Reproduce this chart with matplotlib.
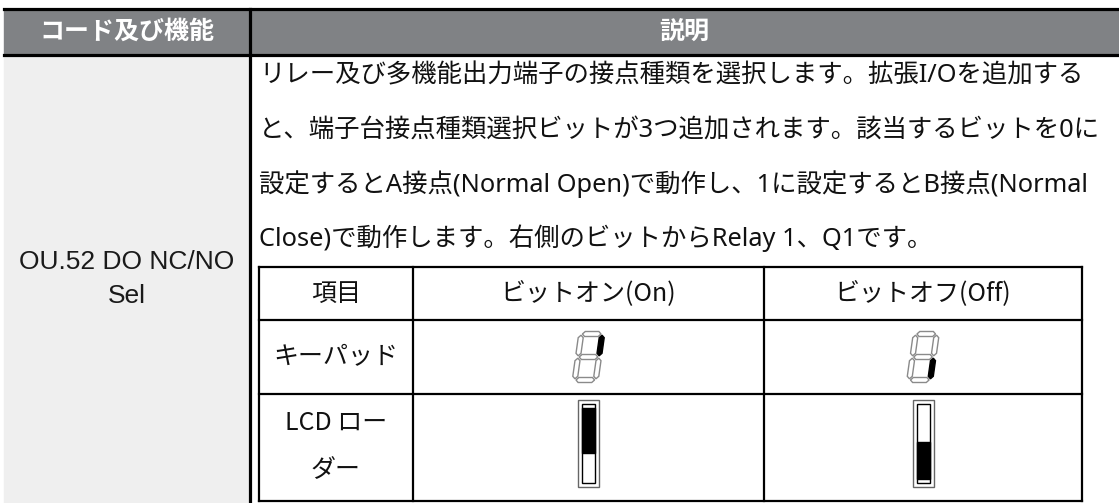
import numpy as np
import matplotlib.pyplot as plt
from matplotlib.patches import Rectangle, Polygon

# text content
header_labels = ['コード及び機能', '説明']
code_lines = ['OU.52 DO NC/NO', 'Sel']
desc_lines = [
    'リレー及び多機能出力端子の接点種類を選択します。拡張I/Oを追加する',
    'と、端子台接点種類選択ビットが3つ追加されます。該当するビットを0に',
    '設定するとA接点(Normal Open)で動作し、1に設定するとB接点(Normal',
    'Close)で動作します。右側のビットからRelay 1、Q1です。',
]
sub_cols = ['項目', 'ビットオン(On)', 'ビットオフ(Off)']
sub_rows = [['キーパッド'], ['LCD ロー', 'ダー']]
keypad_seg = ['b', 'c']          # lit segment for On / Off
loader_fill = [(0.05, 0.62), (0.48, 0.95)]  # black part of loader bar (from top)

JP = ['Noto Sans CJK JP', 'DejaVu Sans']
MIX = ['Noto Sans', 'Noto Sans CJK JP', 'DejaVu Sans']
LAT = ['Liberation Sans', 'DejaVu Sans']

fig = plt.figure(figsize=(11.19, 5.03), dpi=100)
ax = fig.add_axes([0, 0, 1, 1])
ax.set_xlim(0, 1119)
ax.set_ylim(503, 0)
ax.axis('off')

# outer table
xl, xm, xr = 4, 250, 1119
ax.add_patch(Rectangle((xl, 9), xr - xl, 46, color='#808285', zorder=1))
ax.add_patch(Rectangle((xl, 56), xm - xl, 503 - 56, color='#efefef', zorder=1))
ax.plot([xl, xr], [9, 9], color='black', lw=2.3, zorder=3)
ax.plot([xl, xr], [55, 55], color='black', lw=2.3, zorder=3)
ax.plot([xm, xm], [9, 503], color='black', lw=2.3, zorder=3)

ax.text((xl + xm) / 2, 32, header_labels[0], ha='center', va='center',
        color='white', fontsize=18, fontweight='bold', family=JP)
ax.text((xm + xr) / 2, 32, header_labels[1], ha='center', va='center',
        color='white', fontsize=18, fontweight='bold', family=JP)

ax.text((xl + xm) / 2, 262, code_lines[0], ha='center', va='center',
        fontsize=19, family=LAT, color='#1a1a1a')
ax.text((xl + xm) / 2, 296, code_lines[1], ha='center', va='center',
        fontsize=19, family=LAT, color='#1a1a1a')

for i, line in enumerate(desc_lines):
    ax.text(259, 76 + i * 54, line, ha='left', va='center', fontsize=18.3,
            family=MIX, color='#111111')

# inner table
cx = [259, 413, 764, 1082]
ry = [267, 320, 394, 501]
for x in cx:
    ax.plot([x, x], [ry[0], ry[-1]], color='black', lw=1.6, zorder=3)
for y in ry:
    ax.plot([cx[0], cx[-1]], [y, y], color='black', lw=1.6, zorder=3)

for j, lab in enumerate(sub_cols):
    ax.text((cx[j] + cx[j + 1]) / 2, (ry[0] + ry[1]) / 2, lab, ha='center',
            va='center', fontsize=18, family=JP, color='#111111')
ax.text((cx[0] + cx[1]) / 2, (ry[1] + ry[2]) / 2, sub_rows[0][0], ha='center',
        va='center', fontsize=18, family=JP, color='#111111')
ax.text((cx[0] + cx[1]) / 2, 423, sub_rows[1][0], ha='center',
        va='center', fontsize=18, family=JP, color='#111111')
ax.text((cx[0] + cx[1]) / 2, 470, sub_rows[1][1], ha='center',
        va='center', fontsize=18, family=JP, color='#111111')


def seven_seg(cx0, cy0, lit, w=21, h=46, t=5, slant=0.14):
    g = 1.2
    x0, x1 = -w / 2, w / 2
    y0, ym, y1 = -h / 2, 0, h / 2

    def hseg(y):
        a, b = x0 + g, x1 - g
        return [(a, y), (a + t / 2, y - t / 2), (b - t / 2, y - t / 2),
                (b, y), (b - t / 2, y + t / 2), (a + t / 2, y + t / 2)]

    def vseg(x, ya, yb):
        ya, yb = ya + g, yb - g
        return [(x, ya), (x + t / 2, ya + t / 2), (x + t / 2, yb - t / 2),
                (x, yb), (x - t / 2, yb - t / 2), (x - t / 2, ya + t / 2)]

    segs = {'a': hseg(y0), 'g': hseg(ym), 'd': hseg(y1),
            'f': vseg(x0, y0, ym), 'b': vseg(x1, y0, ym),
            'e': vseg(x0, ym, y1), 'c': vseg(x1, ym, y1)}
    for k, pts in segs.items():
        pts = [(cx0 + px - slant * py, cy0 + py) for px, py in pts]
        on = k == lit
        ax.add_patch(Polygon(pts, closed=True, lw=1.0,
                             facecolor='black' if on else 'white',
                             edgecolor='black' if on else '#8a8a8a', zorder=4))


def loader(cx0, top, bottom, frac):
    w = 21
    ax.add_patch(Rectangle((cx0 - w / 2, top), w, bottom - top, fill=False,
                           edgecolor='#666666', lw=1.0, zorder=4))
    it, ib = top + 4, bottom - 4
    iw = 13
    ax.add_patch(Rectangle((cx0 - iw / 2, it), iw, ib - it, facecolor='white',
                           edgecolor='black', lw=1.0, zorder=4))
    fa, fb = frac
    ax.add_patch(Rectangle((cx0 - iw / 2, it + fa * (ib - it)), iw,
                           (fb - fa) * (ib - it), color='black', zorder=5))


for j in range(2):
    mid = (cx[j + 1] + cx[j + 2]) / 2
    seven_seg(mid, 357, keypad_seg[j])
    loader(mid, 400, 487, loader_fill[j])

fig.savefig('out.png', dpi=100)
